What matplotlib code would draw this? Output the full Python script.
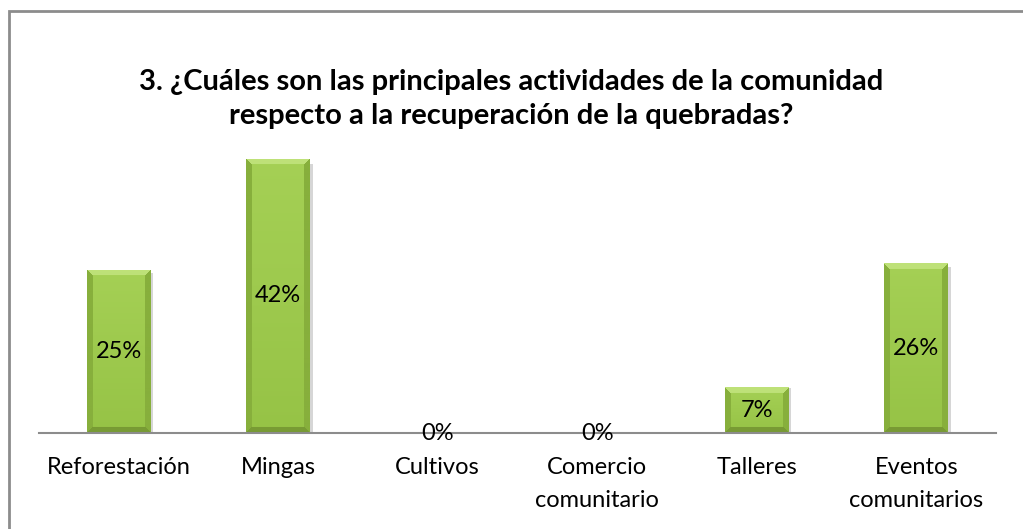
import numpy as np
import matplotlib
matplotlib.use("Agg")
import matplotlib.pyplot as plt
from matplotlib.patches import Rectangle

plt.rcParams['font.family'] = ['Lato', 'DejaVu Sans']

# survey answers (% of respondents)
categories = ["Reforestación", "Mingas", "Cultivos", "Comercio\ncomunitario",
              "Talleres", "Eventos\ncomunitarios"]
percent = [25, 42, 0, 0, 7, 26]
title = ("3. ¿Cuáles son las principales actividades de la comunidad\n"
         "respecto a la recuperación de la quebradas?")

W, H = 1023, 529
fig = plt.figure(figsize=(W / 100, H / 100), dpi=100)
# outer chart frame
fig.patches.append(Rectangle((9 / W, -0.05), 1.1, 1 - 11 / H + 0.05,
                             transform=fig.transFigure, fill=False,
                             edgecolor='#8c8c8c', linewidth=2))

ax_box = [39 / W, 1 - 433 / H, 957 / W, 294 / H]
ax = fig.add_axes(ax_box)
ymax = 45
x = np.arange(len(categories))
bars = ax.bar(x, percent, width=0.4, color='#9dc84a', edgecolor='none', zorder=2)

# bevelled fill, built per pixel: light top face, darker sides and bottom
c_mid_top = np.array([165, 208, 85]) / 255
c_mid_bot = np.array([150, 195, 70]) / 255
c_top = np.array([190, 225, 120]) / 255
c_side = np.array([135, 175, 60]) / 255
c_bot = np.array([120, 155, 52]) / 255
px_per_x = ax_box[2] * W / len(categories)
px_per_y = ax_box[3] * H / ymax
depth = 6
for b in bars:
    h = b.get_height()
    if h <= 0:
        continue
    nx = int(round(b.get_width() * px_per_x))
    ny = int(round(h * px_per_y))
    jj, ii = np.meshgrid(np.arange(nx) + 0.5, np.arange(ny) + 0.5)
    d_left, d_right = jj, nx - jj
    d_top, d_bot = ii, ny - ii
    t = (ii / ny)[..., None]
    img = c_mid_top * (1 - t) + c_mid_bot * t
    dmin = np.minimum(np.minimum(d_left, d_right), np.minimum(d_top, d_bot))
    edge = dmin < depth
    side = edge & (np.minimum(d_left, d_right) == dmin)
    img[side] = c_side
    img[edge & (d_bot == dmin)] = c_bot
    img[edge & (d_top == dmin)] = c_top
    im = ax.imshow(img, extent=(b.get_x(), b.get_x() + b.get_width(), 0, h),
                   aspect='auto', zorder=3, interpolation='bilinear')
    im.set_clip_path(b)
    # soft shadow to the right
    ax.add_patch(Rectangle((b.get_x() + b.get_width(), 0), 0.015, h * 0.98,
                           color='#d6d6d6', zorder=1, linewidth=0))

for xi, v in zip(x, percent):
    ax.text(xi, v / 2, f"{v}%", ha='center', va='center', fontsize=17, zorder=4)

ax.set_xlim(-0.5, len(categories) - 0.5)
ax.set_ylim(0, ymax)
ax.set_xticks(x)
ax.set_xticklabels(categories, fontsize=17, linespacing=1.75)
ax.tick_params(axis='x', length=0, pad=17)
ax.set_yticks([])
for s in ['top', 'right', 'left']:
    ax.spines[s].set_visible(False)
ax.spines['bottom'].set_color('#8c8c8c')
ax.spines['bottom'].set_linewidth(1.5)
ax.spines['bottom'].set_zorder(3.5)

fig.text(0.5, 1 - 99 / H, title, ha='center', va='center', fontsize=21,
         fontweight='bold', linespacing=1.42)

fig.savefig("out.png", dpi=100)
